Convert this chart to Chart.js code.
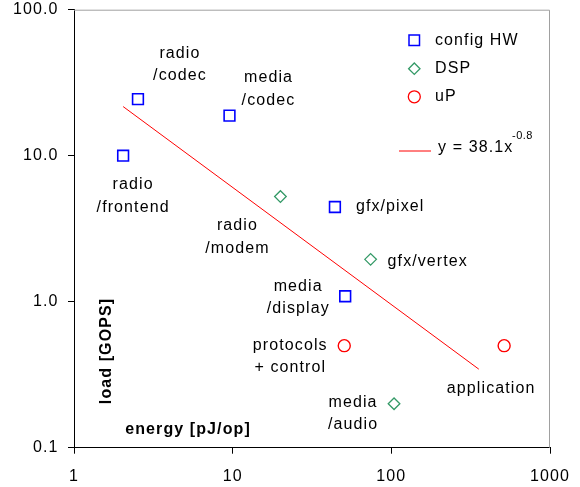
<!DOCTYPE html>
<html>
<head>
<meta charset="utf-8">
<script src="https://cdn.jsdelivr.net/npm/chart.js@4"></script>
<style>
  body { margin: 0; background: #fff; }
  #chartContainer { width: 580px; height: 487px; }
</style>
</head>
<body>
<div id="chartContainer"><canvas id="chart"></canvas></div>
<script>
// energy [pJ/op] vs load [GOPS]
const configHwNames = ['radio\n/frontend', 'radio\n/codec', 'media\n/codec', 'gfx/pixel', 'media\n/display'];
const configHwEnergy = [2.04, 2.53, 9.55, 44.1, 51.2];
const configHwLoad = [10, 24.4, 18.8, 4.45, 1.09];

const dspNames = ['radio\n/modem', 'gfx/vertex', 'media\n/audio'];
const dspEnergy = [20, 74, 104];
const dspLoad = [5.25, 1.95, 0.2];

const upNames = ['protocols\n+ control', 'application'];
const upEnergy = [50.5, 514];
const upLoad = [0.5, 0.5];

// ends of the fitted trend line as drawn
const fitEnergy = [2.04, 356];
const fitLoad = [21.7, 0.345];

const xTickValues = [1, 10, 100, 1000];
const xTickLabels = ['1', '10', '100', '1000'];
const yTickValues = [0.1, 1, 10, 100];
const yTickLabels = ['0.1', '1.0', '10.0', '100.0'];

// where each point's label sits relative to the marker: dx, dy of first line, align
const labelSpots = {
  'radio\n/frontend': [10, 29, 'center'],
  'radio\n/codec': [42, -46, 'center'],
  'media\n/codec': [39, -38, 'center'],
  'gfx/pixel': [21, 0, 'left'],
  'media\n/display': [-47, -10, 'center'],
  'radio\n/modem': [-43, 29.5, 'center'],
  'gfx/vertex': [17, 2, 'left'],
  'media\n/audio': [-41, -1.5, 'center'],
  'protocols\n+ control': [-54, -0.5, 'center'],
  'application': [-13, 43, 'center']
};

const BLUE = '#0000ff';
const GREEN = '#339966';
const RED = '#ff0000';
const FONT = '16px "Liberation Sans", Arial, sans-serif';
const BOLD = 'bold 16px "Liberation Sans", Arial, sans-serif';

Chart.defaults.font.family = '"Liberation Sans", Arial, sans-serif';
Chart.defaults.font.size = 16;
Chart.defaults.color = '#000';

function pts(xs, ys) {
  return xs.map((x, i) => ({ x: x, y: ys[i] }));
}

// scales should not push the plot area around, layout padding decides it
function noScalePadding(scale) {
  scale.paddingTop = 0;
  scale.paddingBottom = 0;
  scale.paddingLeft = 0;
  scale.paddingRight = 0;
}

const extras = {
  id: 'extras',
  beforeDraw(chart) {
    chart.ctx.letterSpacing = '1.1px';
  },
  beforeDatasetsDraw(chart) {
    const ctx = chart.ctx;
    const a = chart.chartArea;
    ctx.save();
    ctx.strokeStyle = '#a0a0a0';
    ctx.lineWidth = 1;
    ctx.beginPath();
    ctx.moveTo(a.left, a.top + 0.5);
    ctx.lineTo(a.right - 0.5, a.top + 0.5);
    ctx.lineTo(a.right - 0.5, a.bottom);
    ctx.stroke();
    ctx.restore();
  },
  afterDraw(chart) {
    const ctx = chart.ctx;
    ctx.save();
    ctx.letterSpacing = '1.1px';
    ctx.fillStyle = '#000';
    ctx.font = FONT;
    ctx.textBaseline = 'middle';

    // point labels
    chart.data.datasets.forEach((ds, i) => {
      if (!ds.names) return;
      const meta = chart.getDatasetMeta(i);
      ds.names.forEach((name, j) => {
        const spot = labelSpots[name];
        const el = meta.data[j];
        ctx.textAlign = spot[2];
        name.split('\n').forEach((line, k) => {
          ctx.fillText(line, el.x + spot[0], el.y + spot[1] + k * 22.5);
        });
      });
    });

    // axis titles inside the plot
    ctx.font = BOLD;
    ctx.textAlign = 'center';
    ctx.fillText('energy [pJ/op]', 188, 430);
    ctx.save();
    ctx.translate(107, 351);
    ctx.rotate(-Math.PI / 2);
    ctx.fillText('load [GOPS]', 0, 0);
    ctx.restore();

    // legend
    ctx.font = FONT;
    ctx.textAlign = 'left';
    ctx.lineWidth = 1.5;
    ctx.strokeStyle = BLUE;
    ctx.strokeRect(409, 35, 10.5, 10.5);
    ctx.fillText('config HW', 435, 40.5);
    ctx.strokeStyle = GREEN;
    ctx.lineWidth = 1.3;
    ctx.beginPath();
    ctx.moveTo(414.3, 63);
    ctx.lineTo(420, 68.7);
    ctx.lineTo(414.3, 74.4);
    ctx.lineTo(408.6, 68.7);
    ctx.closePath();
    ctx.stroke();
    ctx.fillText('DSP', 435, 69);
    ctx.strokeStyle = RED;
    ctx.beginPath();
    ctx.arc(414.3, 96.8, 6, 0, Math.PI * 2);
    ctx.stroke();
    ctx.fillText('uP', 435, 97);
    ctx.lineWidth = 1;
    ctx.beginPath();
    ctx.moveTo(399, 151);
    ctx.lineTo(431, 151);
    ctx.stroke();
    ctx.fillText('y = 38.1x', 438, 148);
    ctx.font = '11px "Liberation Sans", Arial, sans-serif';
    ctx.letterSpacing = '0.5px';
    ctx.fillText('-0.8', 512, 136);
    ctx.restore();
  }
};

const ctx = document.querySelector('#chart');

const newChart = new Chart(ctx, {
  type: 'scatter',
  data: {
    datasets: [
      {
        label: 'config HW',
        names: configHwNames,
        data: pts(configHwEnergy, configHwLoad),
        pointStyle: 'rect',
        pointRadius: 7.6,
        pointBorderWidth: 1.6,
        pointBorderColor: BLUE,
        pointBackgroundColor: 'rgba(0,0,0,0)'
      },
      {
        label: 'DSP',
        names: dspNames,
        data: pts(dspEnergy, dspLoad),
        pointStyle: 'rectRot',
        pointRadius: 5.8,
        pointBorderWidth: 1.3,
        pointBorderColor: GREEN,
        pointBackgroundColor: 'rgba(0,0,0,0)'
      },
      {
        label: 'uP',
        names: upNames,
        data: pts(upEnergy, upLoad),
        pointStyle: 'circle',
        pointRadius: 6,
        pointBorderWidth: 1.4,
        pointBorderColor: RED,
        pointBackgroundColor: 'rgba(0,0,0,0)'
      },
      {
        label: 'fit',
        data: pts(fitEnergy, fitLoad),
        showLine: true,
        pointRadius: 0,
        borderColor: RED,
        borderWidth: 1
      }
    ]
  },
  options: {
    responsive: true,
    maintainAspectRatio: false,
    animation: false,
    layout: { padding: { top: 9.7, right: 30, left: 0, bottom: 0 } },
    plugins: {
      legend: { display: false },
      tooltip: { enabled: false }
    },
    scales: {
      x: {
        type: 'logarithmic',
        min: 1,
        max: 1000,
        afterBuildTicks: (scale) => { scale.ticks = xTickValues.map(v => ({ value: v, major: true })); },
        afterFit: (scale) => { scale.height = 39.3; noScalePadding(scale); },
        ticks: {
          autoSkip: false,
          maxRotation: 0,
          padding: 13.5,
          callback: (v) => xTickLabels[xTickValues.indexOf(v)]
        },
        grid: { drawOnChartArea: false, tickLength: 6, color: '#000', tickWidth: 1 },
        border: { color: '#000', width: 1 }
      },
      y: {
        type: 'logarithmic',
        min: 0.1,
        max: 100,
        afterBuildTicks: (scale) => { scale.ticks = yTickValues.map(v => ({ value: v, major: true })); },
        afterFit: (scale) => { scale.width = 74; noScalePadding(scale); },
        ticks: {
          autoSkip: false,
          padding: 9.5,
          callback: (v) => yTickLabels[yTickValues.indexOf(v)]
        },
        grid: { drawOnChartArea: false, tickLength: 6, color: '#000', tickWidth: 1 },
        border: { color: '#000', width: 1 }
      }
    }
  },
  plugins: [extras]
});
</script>
</body>
</html>
